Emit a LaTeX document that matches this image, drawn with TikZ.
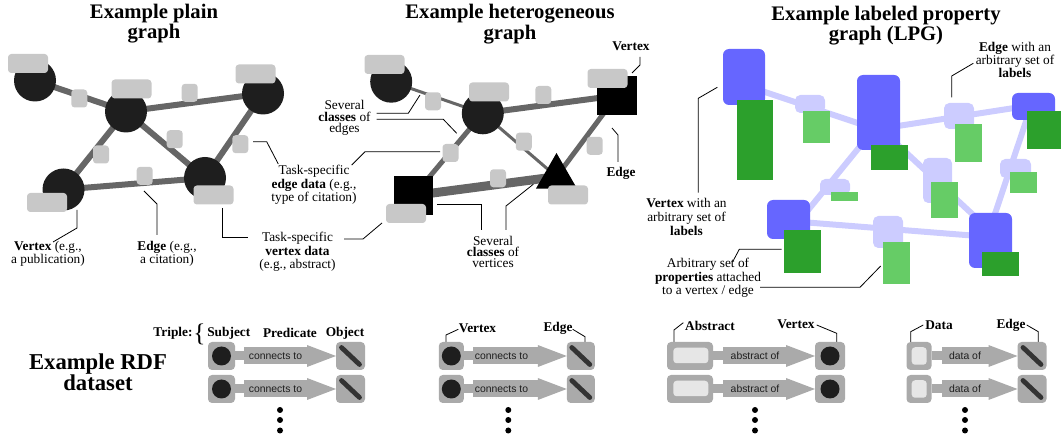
\documentclass[tikz,border=0pt]{standalone}
\usepackage{fontspec}
\setmainfont{Liberation Serif}
\newfontfamily\sansf{Liberation Sans}
\usetikzlibrary{shapes.geometric,arrows.meta,calc,backgrounds}
\definecolor{vdark}{HTML}{1E1E1E}
\definecolor{egray}{HTML}{666666}
\definecolor{lgray}{HTML}{C8C8C8}
\definecolor{rgray}{HTML}{AAAAAA}
\definecolor{inlt}{HTML}{E6E6E6}
\definecolor{vblue}{HTML}{6666FF}
\definecolor{lav}{HTML}{CCCCFF}
\definecolor{dgreen}{HTML}{2CA02C}
\definecolor{lgreen}{HTML}{66CC66}
\definecolor{bardark}{HTML}{333333}
\begin{document}
\begin{tikzpicture}[x=0.75pt,y=-0.75pt,
  every node/.style={inner sep=0pt, outer sep=0pt},
  sz/.style 2 args={minimum width=#1*0.75pt, minimum height=#2*0.75pt},
  vtx/.style={circle, fill=vdark, minimum size=42*0.75pt},
  sqv/.style={rectangle, fill=black, sz={40}{39}},
  triv/.style={regular polygon, regular polygon sides=3, fill=black, minimum size=47.4*0.75pt},
  vdat/.style={rectangle, rounded corners=2.5pt, fill=lgray, sz={40}{19}},
  edat/.style={rectangle, rounded corners=2.5pt, fill=lgray, sz={16}{18}},
  gedge/.style={draw=egray, line width=#1*0.75pt},
  bv/.style={rectangle, rounded corners=4.5pt, fill=vblue},
  lbox/.style={rectangle, rounded corners=4pt, fill=lav},
  dg/.style={rectangle, fill=dgreen},
  lg/.style={rectangle, fill=lgreen},
  ledge/.style={draw=lav, line width=4.5pt},
  lead/.style={draw=black, line width=0.6pt},
  title/.style={font=\bfseries\fontsize{15.5}{13.5}\selectfont, align=center},
  ann/.style={font=\fontsize{10}{#1}\selectfont, align=center},
  ann/.default=9,
  lab/.style={font=\bfseries\fontsize{10}{10}\selectfont},
  rbox/.style={rectangle, rounded corners=3pt, fill=rgray},
  inbox/.style={rectangle, rounded corners=2.5pt, fill=inlt},
  dotc/.style={circle, fill=vdark, minimum size=19*0.75pt},
  pred/.style={rectangle, fill=rgray, text=vdark, font=\sansf\fontsize{7.8}{8}\selectfont},
  neck/.style={draw=rgray, line width=9*0.75pt},
  parr/.style={draw=rgray, line width=12.75pt, -{Triangle[length=21.75pt,width=16.5pt,line width=0pt]}},
  bar/.style={draw=bardark, line width=3.6pt, line cap=round},
  dot/.style={circle, fill=black, minimum size=6*0.75pt}
]
\useasboundingbox (0,0) rectangle (1061,438);

% ---------- titles ----------
\node[title] (t1) at (154,24) {Example plain\\graph};
\node[title] (t2) at (510,24) {Example heterogeneous\\graph};
\node[title] (t3) at (886,26) {Example labeled property\\graph (LPG)};

% ---------- plain graph ----------
\node[vtx] (a1) at (35,80.5) {};
\node[vtx] (b1) at (126,111.5) {};
\node[vtx] (c1) at (263,93.5) {};
\node[vtx] (d1) at (63.5,189.5) {};
\node[vtx] (e1) at (205,178) {};
\begin{pgfonlayer}{background}
\draw[gedge=6] (a1.center) -- (b1.center);
\draw[gedge=6] (b1.center) -- (c1.center);
\draw[gedge=6] (b1.center) -- (d1.center);
\draw[gedge=6] (b1.center) -- (e1.center);
\draw[gedge=6] (c1.center) -- (e1.center);
\draw[gedge=6] (d1.center) -- (e1.center);
\end{pgfonlayer}
\node[vdat] (a1d) at (28,63.5) {};
\node[vdat] (b1d) at (131.5,89) {};
\node[vdat] (c1d) at (255.5,74) {};
\node[vdat] (d1d) at (47,202.5) {};
\node[vdat] (e1d) at (213.5,195) {};
\node[edat] (ab1) at (79.3,98.5) {};
\node[edat] (bc1) at (189.7,92.8) {};
\node[edat] (bd1) at (101,154.5) {};
\node[edat] (be1) at (174.7,139.2) {};
\node[edat] (ce1) at (240.3,144.2) {};
\node[edat] (de1) at (144.7,175.8) {};

% ---------- heterogeneous graph ----------
\node[vtx] (a2) at (391.2,81.7) {};
\node[vtx] (b2) at (482.8,113.3) {};
\node[sqv] (c2) at (617,95.5) {};
\node[sqv, sz={39}{39}] (d2) at (413.8,195.5) {};
\node[triv] (e2) at (556.5,176.7) {};
\begin{pgfonlayer}{background}
\draw[gedge=3] (a2.center) -- (b2.center);
\draw[gedge=6] (b2.center) -- (c2.center);
\draw[gedge=5] (b2.center) -- (d2.center);
\draw[gedge=3] (b2.center) -- (e2.center);
\draw[gedge=5] (c2.center) -- (e2.center);
\draw[gedge=9] (d2.center) -- (e2.center);
\end{pgfonlayer}
\node[vdat] (a2d) at (384.5,64.5) {};
\node[vdat] (b2d) at (489,92) {};
\node[vdat] (c2d) at (607.5,78.5) {};
\node[vdat] (d2d) at (406,213.5) {};
\node[vdat] (e2d) at (568,195) {};
\node[edat] (ab2) at (433,101.3) {};
\node[edat] (bc2) at (543.3,95) {};
\node[edat] (bd2) at (450.5,153) {};
\node[edat] (be2) at (523.8,141.7) {};
\node[edat] (ce2) at (594.7,145.8) {};
\node[edat] (de2) at (498,178.3) {};

% ---------- LPG ----------
\node[bv, sz={42}{56}] (v1) at (744,77) {};
\node[bv, sz={43}{75}] (v2) at (878.5,112.5) {};
\node[bv, sz={43}{27}] (v3) at (1033.5,106.5) {};
\node[bv, sz={43}{39}] (v4) at (788.5,219.5) {};
\node[bv, sz={43}{55}] (v5) at (990.5,240.5) {};
\begin{pgfonlayer}{background}
\draw[ledge] ($(v1)+(0,8)$) -- ($(v2)+(0,17.5)$);
\draw[ledge] ($(v2)+(0,16.5)$) -- ($(v3)+(0,-1.5)$);
\draw[ledge] ($(v2)+(9.5,-0.5)$) -- ($(v4)+(11.5,0.5)$);
\draw[ledge] ($(v2)+(0,14.5)$) -- ($(v5)+(0,-9.5)$);
\draw[ledge] ($(v3)+(-2.5,0)$) -- ($(v5)+(-4.5,0)$);
\draw[ledge] ($(v4)+(0,1.5)$) -- ($(v5)+(0,-3.5)$);
\end{pgfonlayer}
\node[lbox, sz={30}{18}] (e12) at (810,104) {};
\node[lbox, sz={30}{26}] (e23) at (959,116) {};
\node[lbox, sz={30}{16}] (e24) at (835,187) {};
\node[lbox, sz={29}{45}] (e25) at (937.5,180.5) {};
\node[lbox, sz={31}{19}] (e35) at (1015.5,168.5) {};
\node[lbox, sz={30}{32}] (e45) at (888,232) {};
\node[dg, sz={36}{80}] (g1) at (755,140) {};
\node[dg, sz={37}{25}] (g2) at (889.5,157.5) {};
\node[dg, sz={34}{38}] (g3) at (1044,130) {};
\node[dg, sz={37}{43}] (g4) at (802.5,251.5) {};
\node[dg, sz={37}{24}] (g5) at (1000.5,264) {};
\node[lg, sz={27}{32}] (l12) at (816.5,127) {};
\node[lg, sz={27}{38}] (l23) at (968.5,143) {};
\node[lg, sz={27}{9}] (l24) at (844.5,196.5) {};
\node[lg, sz={27}{36}] (l25) at (944.5,200) {};
\node[lg, sz={27}{21}] (l35) at (1023.5,182.5) {};
\node[lg, sz={27}{42}] (l45) at (896.5,263) {};

% ---------- annotations ----------
\node[ann] (n1) at (48,254) {\textbf{Vertex} (e.g.,\\a publication)};
\draw[lead] (77,210) -- (77,228) -- (53,242);
\node[ann] (n2) at (167,254) {\textbf{Edge} (e.g.,\\a citation)};
\draw[lead] (144,191) -- (157,204) -- (157,235);
\node[ann=10] (n3) at (297.5,252) {Task-specific\\\textbf{vertex data}\\(e.g., abstract)};
\draw[lead] (222.7,208) -- (222.7,237.5) -- (248,237.5);
\draw[lead] (344,239) -- (363,239) -- (382,223);
\node[ann] (n4) at (314,185) {Task-specific\\\textbf{edge data} (e.g.,\\type of citation)};
\draw[lead] (253,141.7) -- (266.7,141.7) -- (278.3,164);
\draw[lead] (351.7,165) -- (365,151.7) -- (440,151.7);

\node[ann=8.5] (n5) at (344.5,118) {Several\\\textbf{classes} of\\edges};
\draw[lead] (376.7,113.3) -- (408.3,113.3) -- (420,95);
\draw[lead] (376.7,119.3) -- (443.3,119.3) -- (456.7,133.3);
\node[lab] (n6) at (631,46) {Vertex};
\draw[lead] (640,57) -- (640,65) -- (632,73);
\node[lab] (n7) at (621,173) {Edge};
\draw[lead] (612,128) -- (618,135) -- (618,162);
\node[ann=8.5] (n8) at (493,252) {Several\\\textbf{classes} of\\vertices};
\draw[lead] (481.7,230) -- (481.7,204) -- (436.7,204);
\draw[lead] (506,230) -- (506,206) -- (533.3,184.3);

\node[ann=10] (n9) at (1015,60) {\textbf{Edge} with an\\arbitrary set of\\\textbf{labels}};
\draw[lead] (973.3,63.3) -- (951.7,76) -- (951.7,97.3);
\node[ann=10.5] (n10) at (686.5,217) {\textbf{Vertex} with an\\arbitrary set of\\\textbf{labels}};
\draw[lead] (698.3,192.7) -- (698.3,98.3) -- (717.3,87.3);
\node[ann=8.5] (n11) at (708,278) {Arbitrary set of\\\textbf{properties} attached\\to a vertex / edge};
\draw[lead] (732.7,261.7) -- (739.3,249.3) -- (781.7,249.3);
\draw[lead] (760,287.3) -- (860,287.3) -- (880.7,266);

% ---------- RDF ----------
\node[font=\bfseries\fontsize{17}{15.75}\selectfont, align=center] (rdf) at (98,372.5) {Example RDF\\dataset};
\node[lab] (h1) at (173,333) {Triple:};
\node[font=\fontsize{19}{19}\selectfont] (h2) at (199.5,334.5) {\{};
\node[lab] (h3) at (228.8,333) {Subject};
\node[lab] (h4) at (290,333) {Predicate};
\node[lab] (h5) at (345,333) {Object};

\node[lab] (h6) at (477.5,328) {Vertex};
\draw[lead] (458.3,329.3) -- (446,335) -- (446,351.7);
\node[lab] (h7) at (558,328) {Edge};
\draw[lead] (572.7,329.3) -- (585,336.7) -- (585,366);
\node[lab] (h8) at (710,326) {Abstract};
\draw[lead] (683.3,322.7) -- (674,330) -- (674,345);
\node[lab] (h9) at (796,324) {Vertex};
\draw[lead] (816.7,325) -- (836.7,333.3) -- (836.7,346.7);
\node[lab] (h10) at (939,325) {Data};
\draw[lead] (923.3,325) -- (910.7,331.7) -- (910.7,345);
\node[lab] (h11) at (1011,325) {Edge};
\draw[lead] (1026.7,325) -- (1038.3,331.7) -- (1038.3,353.3);

\foreach \r/\y in {a/356,b/389}{
  % group 1
  \node[rbox, sz={27}{28}] (s1\r) at (221.5,\y) {};
  \node[dotc] (c1\r) at (s1\r) {};
  \node[pred, sz={64}{17}] (p1\r) at (275.5,\y) {connects to};
  \node[rbox, sz={29}{28}] (o1\r) at (350.5,\y) {};
  \draw[bar] ($(o1\r)+(-9,-8.5)$) -- ($(o1\r)+(9,8.5)$);
  \draw[neck] (s1\r) -- (p1\r);
  \draw[parr] (p1\r) -- (o1\r);
  % group 2
  \node[rbox, sz={25}{28}] (s2\r) at (451.3,\y) {};
  \node[dotc] (c2\r) at (s2\r) {};
  \node[pred, sz={57}{17}] (p2\r) at (501.5,\y) {connects to};
  \node[rbox, sz={28}{28}] (o2\r) at (580.8,\y) {};
  \draw[bar] ($(o2\r)+(-9,-8.5)$) -- ($(o2\r)+(9,8.5)$);
  \draw[neck] (s2\r) -- (p2\r);
  \draw[parr] (p2\r) -- (o2\r);
  % group 3
  \node[rbox, sz={46}{28}] (s3\r) at (690,\y) {};
  \node[inbox, sz={35}{15.5}] (i3\r) at (690.8,\y-0.5) {};
  \node[pred, sz={64}{17}] (p3\r) at (755,\y) {abstract of};
  \node[rbox, sz={30}{28}] (o3\r) at (830,\y) {};
  \node[dotc] (c3\r) at (o3\r) {};
  \draw[neck] (s3\r) -- (p3\r);
  \draw[parr] (p3\r) -- (o3\r);
  % group 4
  \node[rbox, sz={25}{28}] (s4\r) at (919,\y) {};
  \node[inbox, sz={15}{17.5}] (i4\r) at (919.2,\y) {};
  \node[pred, sz={47}{17}] (p4\r) at (965,\y) {data of};
  \node[rbox, sz={29}{28}] (o4\r) at (1032,\y) {};
  \draw[bar] ($(o4\r)+(-9,-8.5)$) -- ($(o4\r)+(9,8.5)$);
  \draw[neck] (s4\r) -- (p4\r);
  \draw[parr] (p4\r) -- (o4\r);
}
\foreach \x [count=\i] in {280,508.3,755,965}{
  \foreach \yy [count=\j] in {410,420,430.5}{
    \node[dot] (dt\i\j) at (\x,\yy) {};
  }
}
\end{tikzpicture}
\end{document}
